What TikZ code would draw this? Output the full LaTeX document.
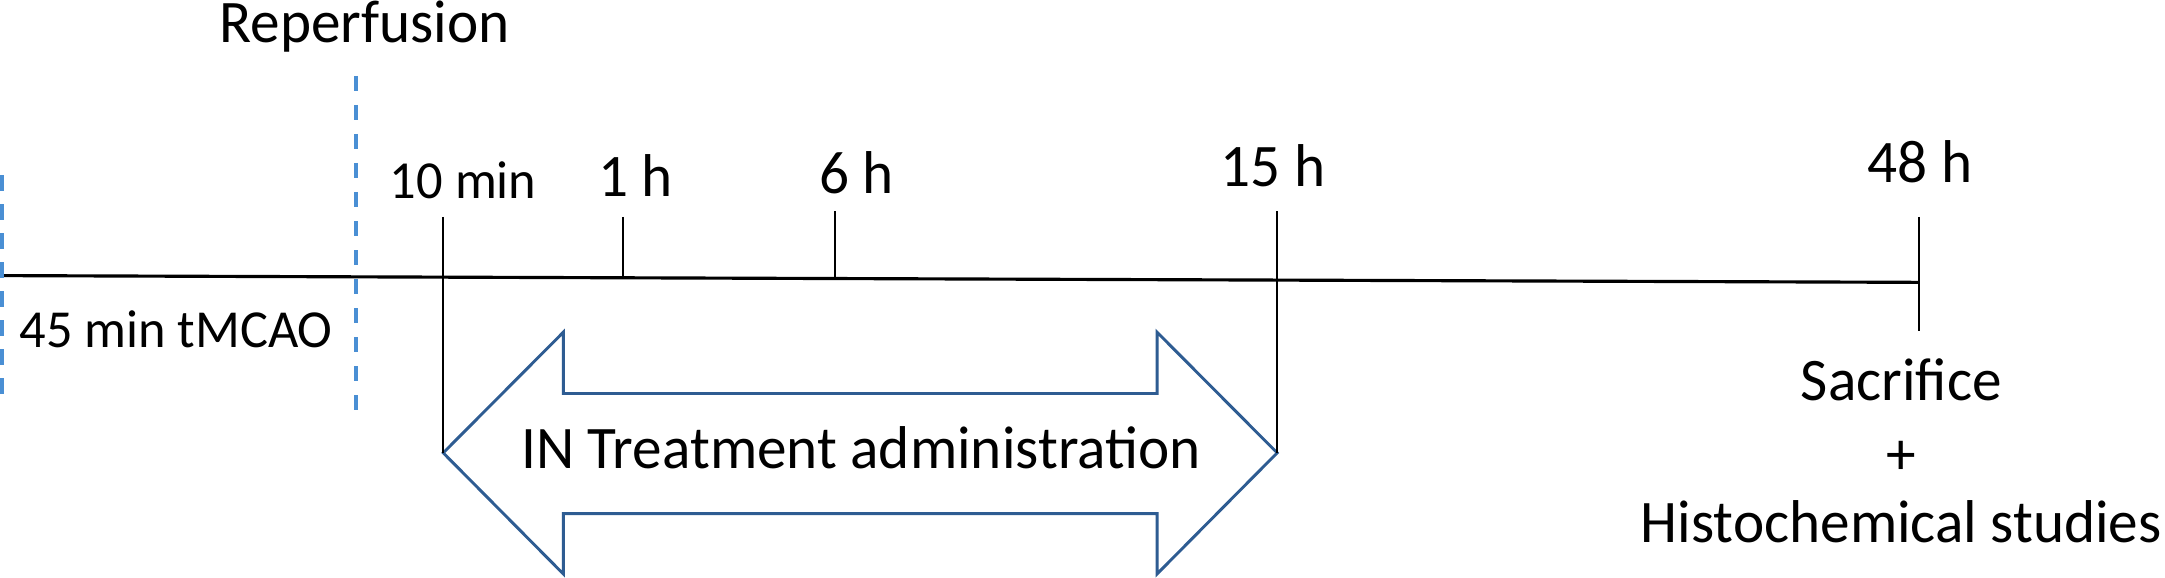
\documentclass[tikz,border=0pt]{standalone}
\usepackage{fontspec}
\setmainfont{Carlito}
\usepackage{tikz}
\usetikzlibrary{calc, arrows.meta, positioning}

\definecolor{dashblue}{RGB}{74,143,212}
\definecolor{arrowblue}{RGB}{46,92,146}

\begin{document}
\begin{tikzpicture}[x=0.01cm, y=-0.01cm,
   lbl/.style = {inner sep=0pt, anchor=base, font=\fontsize{12.2}{14}\selectfont, yscale=1.02},
   small/.style = {lbl, font=\fontsize{10.8}{13}\selectfont},
   tickline/.style = {line width=0.45pt},
   bluedash/.style = {draw=dashblue, line width=0.9pt, dash pattern=on 0.11cm off 0.1cm},
   arrowbox/.style = {draw=arrowblue, line width=0.6pt, fill=white, line join=miter}]
   \useasboundingbox (0,0) rectangle (1568,418.5);

   % timeline
   \coordinate (tlstart) at (0,199.6);
   \coordinate (tlend)   at (1390,204.5);
   \draw[line width=0.65pt] (tlstart) -- (tlend);

   % occlusion and reperfusion
   \coordinate (occtop) at (1.6,127);  \coordinate (occbot) at (1.6,287);
   \coordinate (reptop) at (258,55);   \coordinate (repbot) at (258,300);
   \draw[bluedash] (occtop) -- (occbot);
   \draw[bluedash] (reptop) -- (repbot);
   \node[lbl]   (reperf) at (264,30.7) {Reperfusion};
   \node[small] (tmcao)  at (127.5,252) {45 min tMCAO};

   % double arrow for the treatment window
   \coordinate (ltip) at (321,328);
   \coordinate (rtip) at (925,328);
   \draw[arrowbox] (ltip) -- (408,240.6) -- (408,285) -- (838,285) -- (838,240.6)
      -- (rtip) -- (838,415.7) -- (838,372) -- (408,372) -- (408,415.7) -- cycle;
   \node[lbl] (treat) at (623.5,339.6) {IN Treatment administration};

   % time points
   \coordinate (k10) at (321,157);   \coordinate (k1)  at (451,157);
   \coordinate (k6)  at (605,153);   \coordinate (k15) at (925,153);
   \coordinate (k48) at (1390,157);  \coordinate (k48b) at (1390,240);
   \coordinate (b1)  at (451,201.2); \coordinate (b6)  at (605,201.7);
   \draw[tickline] (k10) -- (ltip);
   \draw[tickline] (k1) -- (b1);
   \draw[tickline] (k6) -- (b6);
   \draw[tickline] (k15) -- (rtip);
   \draw[tickline] (k48) -- (k48b);

   \node[small] (t10) at (335.5,144) {10 min};
   \node[lbl]   (t1)  at (460.3,142) {1 h};
   \node[lbl]   (t6)  at (620.3,140.5) {6 h};
   \node[lbl]   (t15) at (922,135) {15 h};
   \node[lbl]   (t48) at (1390.5,132.5) {48 h};

   % end point
   \node[lbl] (sacr)  at (1377,290) {Sacrifice};
   \node[lbl, anchor=center] (plus) at (1377,331.6) {+};
   \node[lbl] (histo) at (1377,393) {Histochemical studies};

\end{tikzpicture}
\end{document}
